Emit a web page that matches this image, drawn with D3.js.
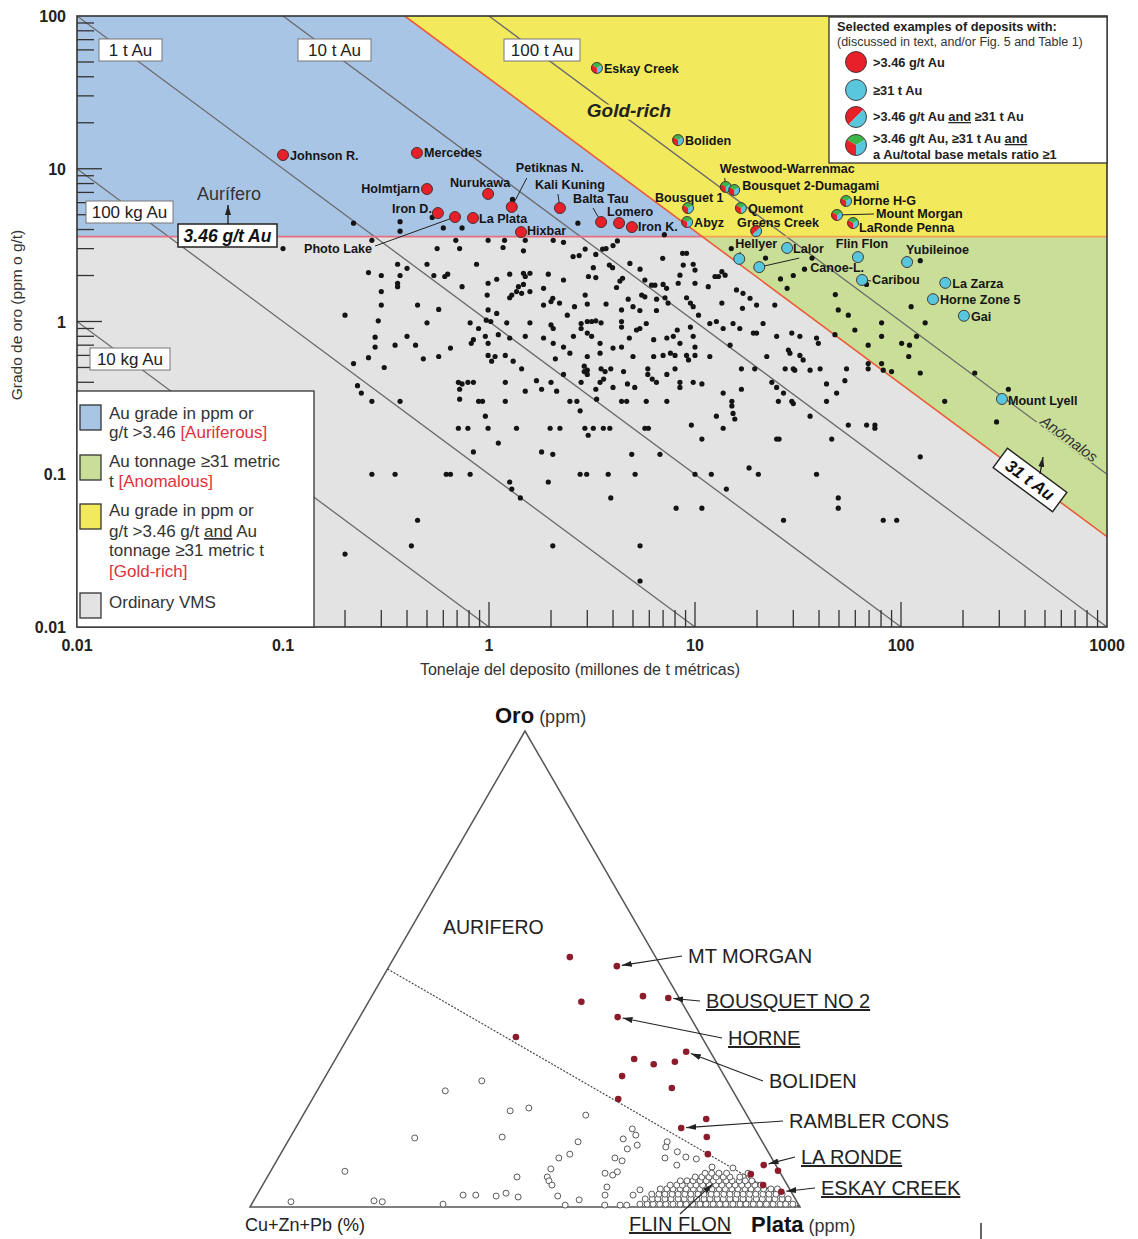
<!DOCTYPE html>
<html>
<head>
<meta charset="utf-8">
<script src="https://cdn.jsdelivr.net/npm/d3@7"></script>
<style>
  body { margin: 0; background: #fff; }
  svg { display: block; font-family: "Liberation Sans", Arial, Helvetica, sans-serif; }
</style>
</head>
<body>
<script>
(function() {

// ---------------------------------------------------------------
// Upper panel: gold grade (g/t) vs deposit tonnage (Mt)
// ---------------------------------------------------------------
var xTickLabels = ["0.01", "0.1", "1", "10", "100", "1000"];
var yTickLabels = ["0.01", "0.1", "1", "10", "100"];

var isoAu     = [0.01, 0.1, 1, 10, 100];               // contained Au, t
var isoLabels = ["10 kg Au", "100 kg Au", "1 t Au", "10 t Au", "100 t Au"];

var gradeLimit = 3.6;   // "3.46 g/t Au" boundary, as drawn in the figure
var auLimit    = 39;    // "31 t Au" boundary, as drawn in the figure

// named deposits
var depNames = ["Johnson R.", "Mercedes", "Holmtjarn", "Nurukawa", "Iron D.", "Photo Lake",
  "La Plata", "Petiknas N.", "Kali Kuning", "Balta Tau", "Lomero", "Iron K.", "Hixbar",
  "Eskay Creek", "Boliden", "Westwood-Warrenmac", "Bousquet 2-Dumagami", "Bousquet 1", "Abyz",
  "Quemont", "Greens Creek", "Horne H-G", "Mount Morgan", "LaRonde Penna",
  "Hellyer", "Canoe-L.", "Lalor", "Flin Flon", "Caribou", "Yubileinoe", "La Zarza",
  "Horne Zone 5", "Gai", "Mount Lyell"];
var depTonnage = [0.1, 0.447, 0.5, 0.99, 0.565, 0.684, 0.836, 1.29, 2.21, 3.5, 4.28, 4.94, 1.43,
  3.34, 8.27, 14.1, 15.5, 9.25, 9.15, 16.7, 19.8, 54.1, 48.9, 58.5,
  16.4, 20.5, 28.0, 61.8, 64.7, 107, 164, 143, 202, 309];
var depGrade = [12.3, 12.7, 7.37, 6.84, 5.13, 4.83, 4.76, 5.62, 5.53, 4.48, 4.41, 4.15, 3.85,
  45.7, 15.4, 7.6, 7.26, 5.53, 4.48, 5.53, 3.91, 6.15, 4.98, 4.41,
  2.57, 2.27, 3.03, 2.64, 1.87, 2.45, 1.79, 1.40, 1.09, 0.311];
// au = >3.46 g/t, ton = >=31 t Au, both, rich = both + Au/base metals >= 1
var depClass = ["au", "au", "au", "au", "au", "au", "au", "au", "au", "au", "au", "au", "au",
  "rich", "rich", "rich", "rich", "rich", "rich", "rich", "both", "rich", "rich", "rich",
  "ton", "ton", "ton", "ton", "ton", "ton", "ton", "ton", "ton", "ton"];

// other VMS deposits: [tonnage Mt, grade g/t]
var vmsDeposits = [
  [0.45,1.28],[0.57,1.2],[0.99,1.19],[1.09,1.13],[2.0,1.35],[1.84,1.28],[2.2,1.32],[2.6,1.25],[3.0,1.3],[3.7,1.3],
  [4.4,1.19],[5.0,1.25],[5.4,1.18],[6.5,1.18],[7.4,1.32],[9.5,1.32],[9.8,1.25],[10.4,1.1],
  [0.5,0.98],[0.81,0.98],[0.89,0.9],[0.97,1.02],[1.02,1.0],[1.22,0.98],[1.58,0.98],[2.0,0.95],[2.05,0.9],[2.4,1.1],
  [2.8,0.97],[3.0,1.0],[3.15,1.0],[3.3,1.01],[3.5,0.98],[4.4,1.0],[4.4,0.92],[5.2,0.88],[5.4,0.9],[5.8,0.97],[8.2,0.88],[9.5,0.92],
  [0.4,0.8],[0.44,0.7],[0.65,0.67],[0.82,0.72],[0.84,0.76],[0.96,0.8],[0.99,0.72],[1.11,0.82],[1.26,0.78],[1.5,0.8],
  [1.84,0.78],[2.05,0.72],[2.3,0.68],[2.57,0.8],[2.8,0.9],[3.0,0.84],[3.15,0.8],[3.46,0.72],[4.0,0.67],[4.4,0.68],
  [4.8,0.78],[6.3,0.76],[7.3,0.78],[7.85,0.8],[8.45,0.72],[9.8,0.8],[10,0.68],
  [0.48,0.57],[0.57,0.59],[0.99,0.6],[1.07,0.59],[1.03,0.55],[1.2,0.6],[1.31,0.55],[1.44,0.49],[2.1,0.57],[2.47,0.62],
  [3.0,0.59],[2.9,0.51],[3.0,0.48],[3.46,0.62],[3.5,0.49],[3.9,0.49],[4.5,0.47],[5.0,0.59],[5.9,0.49],[6.3,0.59],
  [7.0,0.6],[7.6,0.62],[8.0,0.6],[8.0,0.49],[9.1,0.6],[9.3,0.56],[10,0.6],
  [0.71,0.4],[0.74,0.39],[0.79,0.4],[0.84,0.4],[0.72,0.36],[1.2,0.4],[1.7,0.41],[1.8,0.36],[2.0,0.4],[2.13,0.35],
  [2.3,0.45],[2.8,0.4],[2.9,0.47],[3.0,0.45],[3.3,0.36],[3.46,0.4],[3.6,0.42],[3.66,0.47],[4.0,0.37],[4.7,0.39],
  [5.1,0.37],[5.9,0.45],[6.2,0.42],[6.5,0.4],[7.3,0.45],[8.45,0.4],[8.45,0.37],[9.8,0.4],
  [0.37,0.3],[0.72,0.31],[0.89,0.3],[0.93,0.3],[0.96,0.24],[1.2,0.3],[1.5,0.35],[2.47,0.3],[2.67,0.3],[2.77,0.26],
  [3.33,0.31],[4.4,0.3],[4.66,0.3],[5.8,0.3],[7.3,0.3],
  [0.71,0.2],[0.79,0.2],[0.99,0.2],[1.36,0.2],[1.98,0.2],[2.21,0.2],[2.92,0.2],[3.21,0.2],[3.59,0.2],[3.86,0.2],
  [5.71,0.2],[5.94,0.2],[3.03,0.18],[9.6,0.21],
  [1.11,0.16],[0.84,0.14],[1.8,0.14],[2.04,0.135],[4.93,0.135],[6.76,0.135],
  [0.62,0.1],[0.65,0.1],[0.81,0.1],[1.26,0.089],[1.94,0.089],[2.77,0.1],[2.98,0.1],[3.79,0.1],[5.12,0.1],[10,0.1],
  [1.29,0.08],[1.42,0.07],[3.9,0.07],[8.1,0.06],[0.45,0.05],[0.42,0.034],[2.04,0.034],[5.41,0.034],[5.41,0.02],
  [13.5,1.32],[17,1.22],[19.9,1.28],[24.4,1.28],[49.6,1.19],[55.5,1.1],[80.5,0.98],[112,1.25],[131,0.98],
  [11.8,0.97],[12.7,1.0],[13.7,0.9],[15.3,0.97],[16.5,0.9],[19.2,0.84],[19.9,0.84],[21.4,0.97],[24.9,0.8],[29.5,0.84],
  [32.3,0.8],[38.9,0.78],[39.7,0.72],[47.8,0.82],[59.7,0.88],[80.5,0.8],[100.7,0.72],[110,0.7],[119,0.8],[69.3,0.7],[14.8,0.7],
  [11.8,0.59],[16.8,0.49],[19.5,0.49],[22.3,0.59],[28.4,0.65],[28.9,0.62],[32.3,0.6],[33.5,0.56],[27.4,0.49],[30,0.49],
  [30.5,0.48],[36.2,0.48],[40.5,0.49],[54.4,0.49],[69.3,0.53],[69.3,0.49],[80.5,0.53],[82,0.48],[90,0.47],[109,0.59],
  [124,0.46],[228,0.46],
  [10.8,0.39],[13.7,0.34],[15.1,0.3],[15.1,0.28],[15.3,0.25],[15.6,0.23],[16.8,0.36],[23.6,0.4],[24.9,0.37],[25.4,0.3],
  [26.9,0.34],[29.5,0.3],[30,0.29],[36.2,0.24],[43.5,0.39],[43.5,0.3],[48.7,0.34],[53.4,0.41],[163,0.3],[332,0.36],[291,0.22],
  [12.7,0.24],[13.7,0.2],[10.8,0.17],[24.9,0.17],[25.6,0.17],[46.1,0.17],[55.5,0.21],[68.1,0.21],[74.7,0.21],[74.7,0.2],[124,0.13],
  [12,0.1],[14.2,0.08],[18.3,0.11],[20.3,0.1],[38.9,0.1],[49.6,0.07],[49.6,0.06],[10.8,0.06],[26.9,0.05],[82,0.05],[95.3,0.05],
  [0.27,3.4],[0.56,3.0],[0.72,3.0],[0.69,3.4],[0.99,3.4],[1.19,3.4],[1.5,3.4],[1.17,3.05],[1.47,2.9],[2.05,3.4],[2.3,3.3],
  [0.36,2.37],[0.4,2.23],[0.5,2.37],[0.87,2.37],[0.26,2.09],[0.3,2.0],[0.37,2.0],[0.61,1.97],[0.63,2.04],[0.54,2.0],
  [0.36,1.78],[0.36,1.69],[0.74,1.69],[0.99,1.78],[1.09,1.89],[1.26,2.04],[1.47,2.07],[1.5,1.97],[1.58,2.07],[1.47,1.75],
  [1.39,1.69],[1.36,1.57],[1.44,1.53],[1.58,1.57],[1.29,1.49],[1.26,1.43],[1.84,1.65],[1.94,2.04],[2.3,1.87],[0.3,1.57],
  [0.3,1.28],[0.98,1.49],[2.04,1.42],[0.2,1.1],[0.29,1.01],
  [2.56,2.66],[2.74,2.7],[2.93,2.98],[3.3,2.75],[3.56,2.98],[3.7,3.0],[4.0,3.14],[4.2,3.37],[3.84,2.34],[3.98,2.25],
  [3.21,2.25],[3.04,1.97],[3.3,1.94],[4.83,2.4],[5.41,2.2],[6.97,2.59],[8.7,2.79],[9.1,2.79],[8.77,2.34],[9.8,2.37],
  [10,2.17],[8.45,2.01],[4.45,1.92],[4.32,1.84],[5.71,1.87],[6.15,1.73],[6.39,1.73],[7.0,1.75],[7.28,1.65],[8.29,1.78],
  [11.6,1.69],[12.5,1.97],[13,1.97],[13.5,2.12],[14,2.01],[10,1.78],[4.16,1.67],[4.74,1.4],[5.51,1.49],[5.71,1.45],
  [6.51,1.4],[7.15,1.43],[9.1,1.43],[15.9,1.61],[17.1,1.53],[18.5,1.42],[2.93,1.49],
  [15,3.0],[22,2.6],[37,2.6],[34,2.2],[26,1.9],[30,2.0],[28,1.65],[68,1.75],[124,2.5],[48,1.5],
  [0.22,4.4],[0.37,4.5],[0.37,3.9],[0.53,4.8],[0.6,4.1],[0.74,4.1],[1.3,6.3],[2.7,4.4],[7.1,3.7],[0.1,3.0],
  [0.28,0.79],[0.28,0.68],[0.35,0.7],[0.22,0.53],[0.26,0.58],[0.31,0.5],[0.23,0.38],[0.24,0.34],[0.27,0.3],
  [0.27,0.1],[0.35,0.1],[0.2,0.03]
];

// ---------------------------------------------------------------
// Lower panel: ternary Oro - Cu+Zn+Pb - Plata, [oro, cu+zn+pb, plata] %
// ---------------------------------------------------------------
var ternAurifero = [
  [52.5,15.6,31.9],[50.6,8.0,41.4],[43.1,18.2,38.7],[44.3,6.4,49.3],[43.9,2.0,54.1],[39.9,13.2,46.9],
  [32.6,4.4,63.0],[31.1,14.6,54.3],[30.0,11.6,58.4],[30.5,7.5,62.0],[27.5,18.6,53.9],[25.0,10.8,64.2],
  [22.7,21.7,55.6],[18.5,7.8,73.7],[16.6,13.3,70.1],[14.7,9.6,75.7],[11.1,11.2,77.7],[8.8,2.2,89.0],
  [7.6,0.2,92.2],[6.9,5.5,87.6],[4.6,4.4,91.0],[3.2,1.8,95.0],[35.7,33.8,30.5]
];
var ternOrdinary = [
  [1.1,92.0,6.9],[7.5,79.0,13.5],[1.3,76.8,21.9],[1.1,75.4,23.5],[14.5,62.8,22.7],[24.4,52.3,23.3],
  [26.5,44.6,28.9],[0.6,64.6,34.8],[2.5,60.0,37.5],[2.5,57.7,39.8],[2.3,54.1,43.6],[2.9,52.0,45.1],
  [2.1,50.2,47.7],[14.7,46.8,38.5],[20.2,42.6,37.2],[20.8,38.9,40.3],[6.3,48.3,45.4],[6.3,42.8,50.9],
  [5.5,42.9,51.6],[4.6,42.8,52.6],[8.0,41.3,50.7],[10.3,38.7,51.0],[11.1,36.3,52.6],[13.7,33.5,52.8],
  [19.3,29.3,51.4],[2.3,42.9,54.8],[1.5,39.4,59.1],[0.4,42.5,57.1],[7.1,31.9,61.0],[4.2,33.0,62.8],
  [2.5,34.2,63.3],[6.7,30.7,62.6],[7.4,29.5,63.1],[10.3,28.5,61.2],[9.7,27.5,62.8],[14.3,25.0,60.7],
  [12.2,25.3,62.5],[16.4,22.3,61.3],[15.1,22.3,62.6],[13.0,23.1,63.9],[0.4,35.3,64.3],[0.4,32.5,67.1],
  [0.4,31.3,68.3],[13.7,17.3,69.0],[12.6,18.1,69.3],[10.3,19.4,70.3],[11.6,16.5,71.9],[8.8,18.0,73.2],
  [10.5,15.5,74.0],[10.1,13.8,76.1],[8.4,11.8,79.8],[8.2,8.1,83.7],[6.3,7.2,86.5],[2.5,29.1,68.4],
  [3.6,27.3,69.1]
];
// the dense Flin Flon pile near the Plata corner, row by row
var flinFlonRows = [
  { oro: 0.6, plata: [70.6,71.9,73.0,74.2,75.3,76.6,77.9,79.0,80.2,81.5,82.6,83.9,85.1,86.2,87.5,88.8,89.9,91.2,92.4,93.6,94.8,96.1,97.1,98.4] },
  { oro: 1.7, plata: [71.0,72.3,73.3,74.6,75.7,77.0,78.1,79.3,80.4,81.7,82.8,84.1,85.2,86.4,87.5,88.8,89.9,91.2,92.3,93.5,94.6,95.9,97.0] },
  { oro: 2.7, plata: [71.7,73.0,74.1,75.4,76.5,77.7,78.8,80.1,81.2,82.5,83.5,84.8,85.9,87.2,88.3,89.5,90.6,91.9,93.0,94.3,95.4] },
  { oro: 3.8, plata: [72.7,73.9,75.0,76.3,77.4,78.7,79.9,81.0,82.1,83.4,84.5,85.7,86.8,88.1,89.2,90.4,91.5,92.8,94.0] },
  { oro: 4.6, plata: [74.1,75.3,76.3,77.8,78.8,80.0,81.2,82.4,83.5,84.8,85.9,87.1,88.2,89.5,90.6] },
  { oro: 5.5, plata: [75.5,76.7,77.8,79.1,80.2,81.5,82.5,83.8,84.9,86.2,87.3,88.5] },
  { oro: 6.3, plata: [77.8,79.0,80.3,81.6,82.9,84.1,85.9] },
  { oro: 7.1, plata: [79.2,80.4,81.7,83.1,87.0] }
];
var ternNames   = ["MT MORGAN", "BOUSQUET NO 2", "HORNE", "BOLIDEN", "RAMBLER CONS", "LA RONDE", "ESKAY CREEK", "FLIN FLON"];
var ternTargets = [[50.6,8.0,41.4],[43.9,2.0,54.1],[39.9,13.2,46.9],[32.6,4.4,63.0],[16.6,13.3,70.1],[8.8,2.2,89.0],[3.2,1.8,95.0],[5.5,12.5,82.0]];
var ternUnderline = [false, true, true, false, false, true, true, true];

// ---------------------------------------------------------------
var RED = "#e8202a", CYAN = "#58c7de", GREEN = "#3cb54b";
var BLUE_BG = "#a9c5e6", YELLOW_BG = "#f2ea5c", GREEN_BG = "#c9de97", GRAY_BG = "#e3e3e3";

var svg = d3.select("body").append("svg")
  .attr("width", 1138).attr("height", 1239);

var defs = svg.append("defs");
defs.append("clipPath").attr("id", "plotclip")
  .append("rect").attr("x", 77).attr("y", 16).attr("width", 1030).attr("height", 611);
defs.append("marker").attr("id", "arrow")
  .attr("viewBox", "0 0 10 6").attr("refX", 10).attr("refY", 3)
  .attr("markerWidth", 10).attr("markerHeight", 6)
  .attr("markerUnits", "userSpaceOnUse").attr("orient", "auto")
  .append("path").attr("d", "M0,0L10,3L0,6Z").attr("fill", "#222");

var x = d3.scaleLog().domain([0.01, 1000]).range([77, 1107]);
var y = d3.scaleLog().domain([0.01, 100]).range([627, 16]);
var line = d3.line().x(function(d) { return x(d[0]); }).y(function(d) { return y(d[1]); });

var plot = svg.append("g").attr("clip-path", "url(#plotclip)");

// background fields
var tTop = auLimit / 100, tKnee = auLimit / gradeLimit, gRight = auLimit / 1000;
var fields = [
  [GRAY_BG,   [[0.01,0.01],[1000,0.01],[1000,100],[0.01,100]]],
  [BLUE_BG,   [[0.01,100],[tTop,100],[tKnee,gradeLimit],[0.01,gradeLimit]]],
  [YELLOW_BG, [[tTop,100],[1000,100],[1000,gradeLimit],[tKnee,gradeLimit]]],
  [GREEN_BG,  [[tKnee,gradeLimit],[1000,gradeLimit],[1000,gRight]]]
];
fields.forEach(function(f) {
  plot.append("path").attr("d", line(f[1]) + "Z").attr("fill", f[0]);
});

// contained-gold contours
isoAu.forEach(function(a) {
  var p0 = [Math.max(0.01, a / 100), 0],
      p1 = [Math.min(1000, a / 0.01), 0];
  p0[1] = a / p0[0]; p1[1] = a / p1[0];
  plot.append("path").attr("d", line([p0, p1]))
    .attr("stroke", "#6b6b6b").attr("stroke-width", 1.3).attr("fill", "none");
});

// field boundaries
plot.append("path").attr("d", line([[0.01, gradeLimit], [tKnee, gradeLimit]]))
  .attr("stroke", "#e56f80").attr("stroke-width", 1.8).attr("fill", "none");
plot.append("path").attr("d", line([[tKnee, gradeLimit], [1000, gradeLimit]]))
  .attr("stroke", "#f2a24e").attr("stroke-width", 1.8).attr("fill", "none");
plot.append("path").attr("d", line([[tTop, 100], [1000, gRight]]))
  .attr("stroke", "#ec5a3a").attr("stroke-width", 1.6).attr("fill", "none");

// inner ticks
function isMajor(v) { var l = Math.log10(v); return Math.abs(l - Math.round(l)) < 1e-6; }
y.ticks().forEach(function(t) {
  if (t <= 0.0100001 || t >= 99.999) return;
  svg.append("line").attr("x1", 77).attr("x2", 77 + (isMajor(t) ? 25 : 17))
    .attr("y1", y(t)).attr("y2", y(t)).attr("stroke", "#333").attr("stroke-width", 1.3);
});
x.ticks().forEach(function(t) {
  if (t <= 0.0100001 || t >= 999.99) return;
  svg.append("line").attr("y1", 627).attr("y2", 627 - (isMajor(t) ? 25 : 17))
    .attr("x1", x(t)).attr("x2", x(t)).attr("stroke", "#333").attr("stroke-width", 1.3);
});

// ordinary VMS
plot.selectAll("circle.vms").data(vmsDeposits).enter().append("circle")
  .attr("class", "vms")
  .attr("cx", function(d) { return x(d[0]); })
  .attr("cy", function(d) { return y(d[1]); })
  .attr("r", 2.6).attr("fill", "#141414");

// frame
svg.append("rect").attr("x", 77).attr("y", 16).attr("width", 1030).attr("height", 611)
  .attr("fill", "none").attr("stroke", "#333").attr("stroke-width", 1.6);

// tick labels
yTickLabels.forEach(function(s) {
  svg.append("text").attr("x", 66).attr("y", y(+s) + 6).attr("text-anchor", "end")
    .attr("font-size", 16).attr("font-weight", "bold").attr("fill", "#222").text(s);
});
xTickLabels.forEach(function(s) {
  svg.append("text").attr("x", x(+s)).attr("y", 651).attr("text-anchor", "middle")
    .attr("font-size", 16).attr("font-weight", "bold").attr("fill", "#222").text(s);
});
svg.append("text").attr("x", 580).attr("y", 675).attr("text-anchor", "middle")
  .attr("font-size", 16).attr("fill", "#333").text("Tonelaje del deposito (millones de t métricas)");
svg.append("text").attr("transform", "translate(22,315) rotate(-90)").attr("text-anchor", "middle")
  .attr("font-size", 15.5).attr("fill", "#333").text("Grado de oro (ppm o g/t)");

// contour labels
var isoBoxes = { "1 t Au": [99, 39, 63], "10 t Au": [298, 39, 73], "100 t Au": [504, 39, 76],
                 "100 kg Au": [86, 201, 87], "10 kg Au": [90, 348, 80] };
isoLabels.forEach(function(s) {
  var b = isoBoxes[s];
  svg.append("rect").attr("x", b[0]).attr("y", b[1]).attr("width", b[2]).attr("height", 22)
    .attr("fill", "#fff").attr("stroke", "#777").attr("stroke-width", 1);
  svg.append("text").attr("x", b[0] + b[2] / 2).attr("y", b[1] + 17).attr("text-anchor", "middle")
    .attr("font-size", 17).attr("fill", "#222").text(s);
});

// 3.46 g/t label and Aurifero arrow
svg.append("rect").attr("x", 178).attr("y", 224).attr("width", 99).attr("height", 23)
  .attr("fill", "#fff").attr("stroke", "#222").attr("stroke-width", 1.5);
svg.append("text").attr("x", 227.5).attr("y", 242).attr("text-anchor", "middle")
  .attr("font-size", 17.5).attr("font-weight", "bold").attr("font-style", "italic").attr("fill", "#111")
  .text("3.46 g/t Au");
svg.append("line").attr("x1", 228).attr("y1", 224).attr("x2", 228).attr("y2", 205)
  .attr("stroke", "#111").attr("stroke-width", 1.2).attr("marker-end", "url(#arrow)");
svg.append("text").attr("x", 229).attr("y", 200).attr("text-anchor", "middle")
  .attr("font-size", 18).attr("fill", "#333").text("Aurífero");

// Gold-rich / Anómalos / 31 t Au
svg.append("text").attr("x", 629).attr("y", 117).attr("text-anchor", "middle")
  .attr("font-size", 19).attr("font-weight", "bold").attr("font-style", "italic").attr("fill", "#222")
  .attr("stroke", YELLOW_BG).attr("stroke-width", 5).attr("paint-order", "stroke")
  .text("Gold-rich");
var ang = Math.atan2(y(0.1) - y(1), x(10) - x(1)) * 180 / Math.PI;
svg.append("text").attr("transform", "translate(1066,443) rotate(" + ang + ")").attr("text-anchor", "middle")
  .attr("font-size", 15).attr("font-style", "italic").attr("fill", "#333")
  .attr("stroke", GREEN_BG).attr("stroke-width", 3).attr("paint-order", "stroke")
  .text("Anómalos");
var g31 = svg.append("g").attr("transform", "translate(1030,480) rotate(" + ang + ")");
g31.append("rect").attr("x", -37).attr("y", -12).attr("width", 74).attr("height", 24)
  .attr("fill", "#fff").attr("stroke", "#222").attr("stroke-width", 1.4);
g31.append("text").attr("y", 6).attr("text-anchor", "middle")
  .attr("font-size", 17).attr("font-weight", "bold").attr("font-style", "italic").attr("fill", "#111")
  .text("31 t Au");
svg.append("line").attr("x1", 1040).attr("y1", 474).attr("x2", 1043).attr("y2", 457)
  .attr("stroke", "#111").attr("stroke-width", 1.2).attr("marker-end", "url(#arrow)");

// named deposit labels
var labelAt = {
  "Johnson R.": [7, 5], "Mercedes": [7, 4], "Holmtjarn": [-7, 4, "end"], "Nurukawa": [-8, -7, "middle"],
  "Iron D.": [-6, 0, "end"], "Photo Lake": [-151, 36, "start", -80, 29], "La Plata": [6, 5],
  "Petiknas N.": [4, -35, "start", 15, -29], "Kali Kuning": [-25, -19, "start", -2, -14],
  "Balta Tau": [-28, -19, "start", -8, -14], "Lomero": [-12, -7], "Iron K.": [6, 4], "Hixbar": [6, 3],
  "Eskay Creek": [7, 5], "Boliden": [7, 5], "Westwood-Warrenmac": [-6, -14, "start", -1, -9],
  "Bousquet 2-Dumagami": [8, 0], "Bousquet 1": [-33, -6], "Abyz": [7, 5], "Quemont": [7, 5],
  "Greens Creek": [-19, -4, "start", 4, -6], "Horne H-G": [7, 4], "Mount Morgan": [39, 3, "start", 37, -1],
  "LaRonde Penna": [6, 9], "Hellyer": [-4, -11, "start", 1, -7], "Lalor": [6, 5],
  "Canoe-L.": [51, 5, "start", 40, -9], "Flin Flon": [4, -9, "middle"], "Caribou": [10, 4, "start", 9, 1],
  "Yubileinoe": [-1, -8], "La Zarza": [7, 5], "Horne Zone 5": [7, 5], "Gai": [7, 5], "Mount Lyell": [6, 6]
};
var lab = svg.append("g");
depNames.forEach(function(n, i) {
  var px = x(depTonnage[i]), py = y(depGrade[i]), o = labelAt[n];
  if (o.length > 3)
    lab.append("line").attr("x1", px).attr("y1", py).attr("x2", px + o[3]).attr("y2", py + o[4])
      .attr("stroke", "#222").attr("stroke-width", 1);
  lab.append("text").attr("x", px + o[0]).attr("y", py + o[1]).attr("text-anchor", o[2] || "start")
    .attr("font-size", 12.6).attr("font-weight", "bold").attr("fill", "#151515").text(n);
});

// deposit symbols
var arc = d3.arc().innerRadius(0);
function deg(a) { return a * Math.PI / 180; }
var slices = {
  au:   [[0, 360, RED]],
  ton:  [[0, 360, CYAN]],
  both: [[225, 405, RED], [45, 225, CYAN]],
  rich: [[-60, 60, GREEN], [60, 180, CYAN], [180, 300, RED]]
};
function symbol(sel, cls, r) {
  slices[cls].forEach(function(s) {
    if (s[1] - s[0] >= 360)
      sel.append("circle").attr("r", r).attr("fill", s[2]);
    else
      sel.append("path").attr("d", arc({ outerRadius: r, startAngle: deg(s[0]), endAngle: deg(s[1]) }))
        .attr("fill", s[2]);
  });
  sel.append("circle").attr("r", r).attr("fill", "none").attr("stroke", "#3a2a2a").attr("stroke-width", 0.9);
}
depNames.forEach(function(n, i) {
  symbol(svg.append("g").attr("transform", "translate(" + x(depTonnage[i]) + "," + y(depGrade[i]) + ")"),
    depClass[i], 5.5);
});

// legend: symbols
svg.append("rect").attr("x", 829).attr("y", 17).attr("width", 278).attr("height", 146)
  .attr("fill", "#fff").attr("stroke", "#333").attr("stroke-width", 1.3);
svg.append("text").attr("x", 837).attr("y", 31).attr("font-size", 12.8).attr("font-weight", "bold")
  .attr("fill", "#222").text("Selected examples of deposits with:");
svg.append("text").attr("x", 837).attr("y", 46).attr("font-size", 12.5)
  .attr("fill", "#333").text("(discussed in text, and/or Fig. 5 and Table 1)");
var legSym = [["au", 62], ["ton", 90], ["both", 117], ["rich", 145]];
legSym.forEach(function(l) {
  symbol(svg.append("g").attr("transform", "translate(856," + l[1] + ")"), l[0], 10.5);
});
function richText(sel, parts) {
  parts.forEach(function(p) {
    var t = sel.append("tspan").text(p[0]);
    if (p[1]) t.style("text-decoration", "underline");
  });
}
var legTxt = [
  [67,  [[">3.46 g/t Au"]]],
  [95,  [["≥31 t Au"]]],
  [121, [[">3.46 g/t Au "], ["and", 1], [" ≥31 t Au"]]],
  [143, [[">3.46 g/t Au, ≥31 t Au "], ["and", 1]]],
  [159, [["a Au/total base metals ratio ≥1"]]]
];
legTxt.forEach(function(l) {
  richText(svg.append("text").attr("x", 873).attr("y", l[0]).attr("font-size", 12.8)
    .attr("font-weight", "bold").attr("fill", "#222"), l[1]);
});

// legend: fields
svg.append("rect").attr("x", 77).attr("y", 391).attr("width", 237).attr("height", 236)
  .attr("fill", "#fff").attr("stroke", "#333").attr("stroke-width", 1.3);
var swatches = [[BLUE_BG, 405], [GREEN_BG, 455], [YELLOW_BG, 504], [GRAY_BG, 593]];
swatches.forEach(function(s) {
  svg.append("rect").attr("x", 80).attr("y", s[1]).attr("width", 21).attr("height", 25)
    .attr("fill", s[0]).attr("stroke", "#333").attr("stroke-width", 1.3);
});
var fieldTxt = [
  [419, [["Au grade in ppm or"]]],
  [438, [["g/t >3.46 "], ["[Auriferous]", 0, 1]]],
  [467, [["Au tonnage ≥31 metric"]]],
  [487, [["t "], ["[Anomalous]", 0, 1]]],
  [516, [["Au grade in ppm or"]]],
  [537, [["g/t >3.46 g/t "], ["and", 1], [" Au"]]],
  [556, [["tonnage ≥31 metric t"]]],
  [577, [["[Gold-rich]", 0, 1]]],
  [608, [["Ordinary VMS"]]]
];
fieldTxt.forEach(function(l) {
  var t = svg.append("text").attr("x", 109).attr("y", l[0]).attr("font-size", 17).attr("fill", "#333");
  l[1].forEach(function(p) {
    var s = t.append("tspan").text(p[0]);
    if (p[1]) s.style("text-decoration", "underline");
    if (p[2]) s.attr("fill", "#e0313c");
  });
});

// ---------------------------------------------------------------
// ternary
// ---------------------------------------------------------------
var tX = d3.scaleLinear().domain([0, 100]).range([250, 800]);
var tY = d3.scaleLinear().domain([0, 100]).range([1207, 731]);
function tp(d) { var s = d[0] + d[1] + d[2]; return [tX(100 * (d[2] + d[0] / 2) / s), tY(100 * d[0] / s)]; }
var tLine = d3.line().x(function(d) { return tp(d)[0]; }).y(function(d) { return tp(d)[1]; });

var tern = svg.append("g");
tern.append("path").attr("d", tLine([[100, 0, 0], [0, 100, 0], [0, 0, 100]]) + "Z")
  .attr("fill", "none").attr("stroke", "#555").attr("stroke-width", 1.5);
tern.append("path").attr("d", tLine([[50, 50, 0], [0, 0, 100]]))
  .attr("fill", "none").attr("stroke", "#444").attr("stroke-width", 1.2).attr("stroke-dasharray", "2,1.5");

var ordinary = ternOrdinary.slice();
flinFlonRows.forEach(function(r) {
  r.plata.forEach(function(p) { ordinary.push([r.oro, 100 - r.oro - p, p]); });
});
tern.selectAll("circle.ord").data(ordinary).enter().append("circle")
  .attr("class", "ord")
  .attr("cx", function(d) { return tp(d)[0]; })
  .attr("cy", function(d) { return tp(d)[1]; })
  .attr("r", 3).attr("fill", "#fff").attr("stroke", "#5a5a5a").attr("stroke-width", 1);
tern.selectAll("circle.au").data(ternAurifero).enter().append("circle")
  .attr("class", "au")
  .attr("cx", function(d) { return tp(d)[0]; })
  .attr("cy", function(d) { return tp(d)[1]; })
  .attr("r", 3.3).attr("fill", "#8c1c2c");

var ternLabelAt = [[688, 963], [706, 1008], [728, 1045], [769, 1088], [789, 1128], [801, 1164], [821, 1195], [629, 1231]];
ternNames.forEach(function(n, i) {
  var p = tp(ternTargets[i]), l = ternLabelAt[i];
  var sx = l[0] - 6, sy = l[1] - 7;
  if (n === "FLIN FLON") { sx = 680; sy = 1214; }
  var dx = sx - p[0], dy = sy - p[1], len = Math.sqrt(dx * dx + dy * dy);
  tern.append("line").attr("x1", sx).attr("y1", sy)
    .attr("x2", p[0] + dx / len * 5).attr("y2", p[1] + dy / len * 5)
    .attr("stroke", "#222").attr("stroke-width", 1.1).attr("marker-end", "url(#arrow)");
  var t = tern.append("text").attr("x", l[0]).attr("y", l[1]).attr("font-size", 20)
    .attr("fill", "#222").text(n);
  if (ternUnderline[i]) t.style("text-decoration", "underline");
});

var oro = tern.append("text").attr("x", 495).attr("y", 723).attr("fill", "#111");
oro.append("tspan").attr("font-size", 22).attr("font-weight", "bold").text("Oro");
oro.append("tspan").attr("font-size", 18).attr("fill", "#333").text(" (ppm)");
var plata = tern.append("text").attr("x", 751).attr("y", 1232).attr("fill", "#111");
plata.append("tspan").attr("font-size", 22).attr("font-weight", "bold").text("Plata");
plata.append("tspan").attr("font-size", 18).attr("fill", "#333").text(" (ppm)");
tern.append("text").attr("x", 245).attr("y", 1231).attr("font-size", 18).attr("fill", "#222").text("Cu+Zn+Pb (%)");
tern.append("text").attr("x", 443).attr("y", 934).attr("font-size", 19.5).attr("fill", "#222").text("AURIFERO");
tern.append("line").attr("x1", 981).attr("y1", 1223).attr("x2", 981).attr("y2", 1239)
  .attr("stroke", "#333").attr("stroke-width", 1.5);

})();
</script>
</body>
</html>
